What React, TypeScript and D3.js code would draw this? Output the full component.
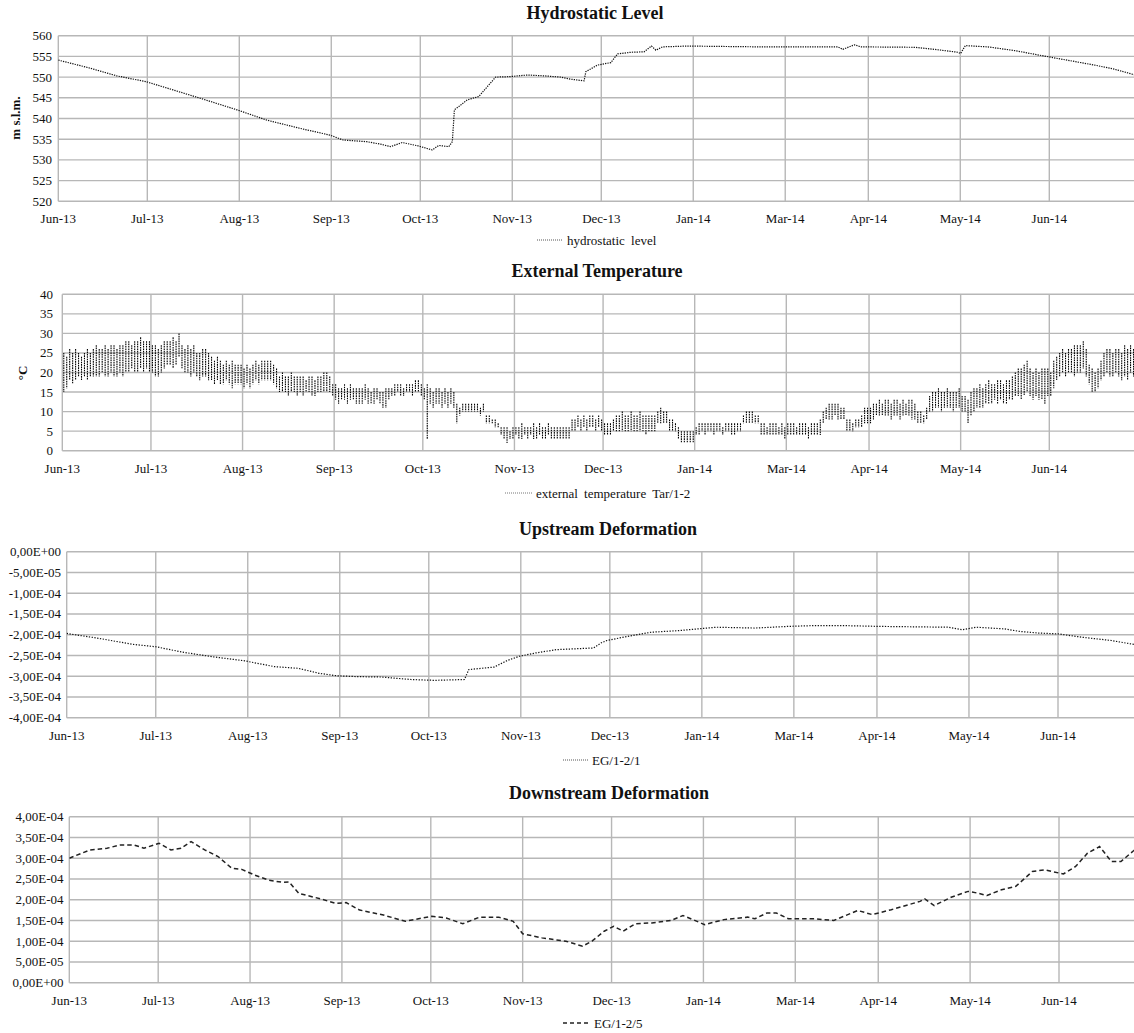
import React from "react";
import * as d3 from "d3";

// ---------- shared axis data ----------
const monthTickDays = [0, 30, 61, 92, 122, 153, 183, 214, 245, 273, 304, 334];
const monthTickLabels = ["Jun-13", "Jul-13", "Aug-13", "Sep-13", "Oct-13", "Nov-13", "Dec-13", "Jan-14", "Mar-14", "Apr-14", "May-14", "Jun-14"];

// ---------- hydrostatic level ----------
const hydroDays = [0, 10, 19.7, 29.6, 38.7, 47.8, 60.2, 70.3, 81.6, 91.5, 96, 104, 108.6, 112, 115.9, 121.2, 126, 128.2, 131.6, 132.8, 133.5, 135, 137.8, 141.7, 144.6, 147.4, 151.9, 158.1, 163.7, 169.3, 172.7, 177.2, 177.8, 181.7, 186.2, 188.5, 193, 197.4, 199.9, 201.4, 203.6, 212, 224, 236.8, 250, 262.7, 264.4, 268.3, 270.6, 288.6, 295.3, 303.2, 304.1, 305.7, 313.3, 322.3, 334.5, 349.3, 356, 363];
const hydroLevel = [554.1, 552.3, 550.3, 548.9, 546.9, 544.9, 542.1, 539.6, 537.6, 536.0, 534.8, 534.4, 533.8, 533.2, 534.2, 533.4, 532.4, 533.5, 533.2, 534.4, 542.1, 542.9, 544.5, 545.3, 547.7, 550.0, 550.1, 550.5, 550.3, 550.0, 549.5, 549.1, 551.3, 552.9, 553.5, 555.6, 556.0, 556.1, 557.5, 556.5, 557.3, 557.5, 557.4, 557.3, 557.3, 557.3, 556.7, 557.8, 557.3, 557.2, 556.7, 556.0, 555.7, 557.6, 557.3, 556.4, 554.8, 552.9, 551.9, 550.5];
const hydroTicks = [520, 525, 530, 535, 540, 545, 550, 555, 560];

// ---------- external temperature (daily max / min) ----------
const tempMax = [
  25, 24, 26, 25, 26, 25, 24, 25, 26, 25,
  26, 27, 26, 26, 27, 26, 27, 27, 26, 27,
  27, 28, 28, 27, 28, 28, 29, 28, 28, 28,
  27, 27, 26, 27, 28, 28, 28, 29, 28, 30,
  27, 26, 27, 26, 27, 25, 25, 26, 26, 25,
  24, 23, 24, 23, 22, 23, 22, 23, 22, 22,
  22, 21, 22, 21, 22, 23, 22, 23, 23, 23,
  23, 22, 21, 19, 20, 19, 19, 20, 19, 19,
  19, 19, 18, 19, 19, 18, 19, 19, 20, 20,
  19, 17, 17, 16, 16, 17, 16, 17, 16, 16,
  16, 16, 17, 16, 15, 16, 16, 15, 15, 16,
  16, 16, 17, 17, 17, 16, 17, 17, 17, 18,
  18, 17, 16, 17, 16, 15, 16, 16, 15, 16,
  15, 16, 15, 12, 11, 12, 12, 12, 12, 12,
  12, 11, 12, 9, 9, 8, 8, 7, 6, 6,
  6, 5, 6, 6, 6, 7, 6, 6, 6, 7,
  6, 7, 6, 6, 7, 6, 6, 6, 6, 6,
  6, 6, 8, 8, 9, 8, 9, 8, 9, 9,
  8, 9, 8, 7, 7, 7, 8, 9, 9, 10,
  9, 9, 10, 9, 9, 10, 9, 9, 9, 9,
  9, 10, 11, 10, 10, 8, 8, 7, 6, 5,
  5, 5, 5, 5, 6, 7, 7, 7, 7, 7,
  7, 7, 7, 6, 7, 7, 7, 7, 7, 7,
  9, 10, 10, 10, 9, 9, 7, 7, 6, 7,
  7, 7, 6, 7, 6, 7, 7, 7, 6, 7,
  7, 7, 6, 7, 7, 7, 8, 10, 11, 12,
  12, 12, 12, 11, 11, 8, 8, 7, 8, 8,
  9, 11, 11, 11, 12, 12, 13, 12, 13, 13,
  12, 13, 13, 12, 13, 12, 13, 13, 12, 10,
  10, 9, 11, 14, 15, 15, 16, 15, 15, 16,
  15, 15, 15, 16, 14, 14, 13, 15, 16, 16,
  17, 16, 17, 18, 17, 17, 18, 18, 17, 18,
  18, 19, 20, 21, 21, 22, 23, 21, 20, 21,
  20, 21, 21, 21, 20, 23, 24, 25, 26, 25,
  26, 26, 27, 27, 27, 28, 26, 22, 21, 20,
  21, 23, 25, 26, 26, 25, 26, 26, 25, 27,
  26, 27, 26,
];
const tempMin = [
  15, 16, 18, 17, 18, 19, 18, 19, 18, 19,
  19, 19, 19, 20, 19, 19, 20, 19, 19, 20,
  19, 20, 20, 21, 20, 20, 21, 20, 21, 20,
  20, 19, 19, 20, 21, 22, 22, 21, 22, 24,
  21, 20, 20, 19, 20, 19, 18, 19, 19, 18,
  18, 17, 18, 17, 17, 18, 17, 16, 17, 17,
  17, 16, 17, 16, 17, 18, 17, 18, 18, 18,
  18, 17, 16, 15, 15, 15, 14, 15, 15, 14,
  15, 14, 15, 15, 14, 14, 15, 15, 15, 15,
  15, 14, 13, 12, 13, 13, 12, 13, 13, 12,
  12, 12, 13, 12, 12, 12, 13, 12, 11, 11,
  13, 14, 14, 15, 14, 14, 15, 15, 14, 15,
  15, 14, 13, 3, 12, 11, 12, 12, 11, 12,
  11, 12, 11, 7, 9, 10, 10, 10, 10, 10,
  10, 9, 10, 7, 7, 7, 6, 6, 4, 3,
  2, 3, 3, 4, 3, 3, 4, 3, 4, 3,
  3, 4, 3, 3, 4, 3, 3, 3, 3, 3,
  3, 3, 5, 5, 6, 5, 6, 5, 6, 6,
  5, 6, 5, 4, 4, 4, 5, 5, 5, 5,
  5, 5, 5, 5, 5, 5, 5, 4, 5, 5,
  5, 7, 7, 7, 7, 5, 5, 5, 3, 2,
  2, 2, 2, 2, 4, 4, 5, 4, 5, 5,
  4, 5, 5, 4, 5, 5, 4, 4, 5, 5,
  7, 7, 7, 7, 7, 7, 4, 4, 4, 4,
  4, 4, 4, 4, 3, 4, 4, 4, 4, 4,
  4, 4, 3, 4, 4, 4, 4, 7, 8, 8,
  8, 9, 8, 8, 8, 5, 5, 5, 6, 6,
  6, 7, 7, 7, 8, 9, 9, 9, 9, 9,
  8, 9, 9, 8, 9, 9, 9, 8, 8, 7,
  7, 7, 8, 10, 10, 11, 11, 10, 11, 11,
  11, 10, 11, 11, 10, 10, 7, 9, 10, 11,
  11, 11, 12, 12, 12, 13, 12, 13, 12, 12,
  13, 13, 14, 14, 13, 14, 15, 14, 13, 14,
  13, 13, 12, 14, 14, 16, 18, 19, 20, 19,
  20, 20, 19, 20, 20, 21, 19, 17, 15, 15,
  16, 18, 19, 20, 19, 19, 20, 19, 18, 19,
  18, 20, 19,
];
const tempTicks = [0, 5, 10, 15, 20, 25, 30, 35, 40];

// ---------- upstream deformation ----------
const upDays = [0, 11, 22, 30, 39, 49, 60, 70, 78, 85, 91, 98, 106, 116, 124, 134, 135.5, 144, 148.5, 152.5, 158, 165, 177.5, 180, 182, 189, 197, 206.5, 212.5, 219, 232, 243, 252, 261, 274, 297, 301.7, 306.5, 316, 321, 327.5, 334, 342, 352, 360, 363];
const upStrain = [-1.97e-4, -2.09e-4, -2.23e-4, -2.29e-4, -2.42e-4, -2.53e-4, -2.63e-4, -2.77e-4, -2.81e-4, -2.93e-4, -2.99e-4, -3.01e-4, -3.02e-4, -3.08e-4, -3.10e-4, -3.08e-4, -2.84e-4, -2.78e-4, -2.62e-4, -2.52e-4, -2.44e-4, -2.36e-4, -2.32e-4, -2.20e-4, -2.14e-4, -2.04e-4, -1.94e-4, -1.90e-4, -1.86e-4, -1.82e-4, -1.84e-4, -1.80e-4, -1.78e-4, -1.78e-4, -1.80e-4, -1.82e-4, -1.88e-4, -1.82e-4, -1.86e-4, -1.92e-4, -1.96e-4, -1.98e-4, -2.06e-4, -2.14e-4, -2.24e-4, -2.26e-4];
const upTicks = [-4e-4, -3.5e-4, -3e-4, -2.5e-4, -2e-4, -1.5e-4, -1e-4, -5e-5, 0];

// ---------- downstream deformation ----------
const downDays = [0, 7, 12.7, 17.3, 21.8, 25.2, 30.3, 34.3, 37.7, 41.1, 45.7, 50.2, 54.8, 58.2, 62.7, 67.3, 71.8, 74.1, 77.5, 84.3, 90, 93.4, 98, 106, 113.4, 122.3, 127.2, 132.8, 138.5, 144.9, 149.8, 153, 159.5, 167.6, 173.2, 176.4, 180.5, 183.7, 186.9, 191, 196.6, 203.1, 207.1, 214.4, 220.9, 228.9, 231.4, 235.4, 238.6, 242.7, 251.6, 258, 266.1, 271, 277.4, 287.1, 288.7, 291.9, 297.6, 303.3, 306.5, 309.7, 314.6, 319.4, 325, 329.1, 335.5, 339.6, 343.6, 347.7, 351.7, 354.9, 359.5];
const downStrain = [3.0e-4, 3.2e-4, 3.24e-4, 3.32e-4, 3.32e-4, 3.24e-4, 3.36e-4, 3.2e-4, 3.24e-4, 3.4e-4, 3.2e-4, 3.04e-4, 2.76e-4, 2.73e-4, 2.59e-4, 2.47e-4, 2.42e-4, 2.43e-4, 2.15e-4, 2.03e-4, 1.91e-4, 1.93e-4, 1.75e-4, 1.63e-4, 1.48e-4, 1.6e-4, 1.56e-4, 1.42e-4, 1.58e-4, 1.58e-4, 1.48e-4, 1.18e-4, 1.08e-4, 1.0e-4, 0.88e-4, 1.0e-4, 1.24e-4, 1.36e-4, 1.24e-4, 1.42e-4, 1.44e-4, 1.5e-4, 1.62e-4, 1.4e-4, 1.52e-4, 1.58e-4, 1.54e-4, 1.68e-4, 1.68e-4, 1.54e-4, 1.54e-4, 1.5e-4, 1.74e-4, 1.64e-4, 1.76e-4, 1.96e-4, 2.02e-4, 1.86e-4, 2.06e-4, 2.2e-4, 2.16e-4, 2.1e-4, 2.24e-4, 2.32e-4, 2.68e-4, 2.72e-4, 2.62e-4, 2.8e-4, 3.12e-4, 3.28e-4, 2.92e-4, 2.92e-4, 3.2e-4];
const downTicks = [0, 5e-5, 1e-4, 1.5e-4, 2e-4, 2.5e-4, 3e-4, 3.5e-4, 4e-4];

// ---------- rendering ----------
const W = 1134;
const H = 1033;
const FONT = "'Liberation Serif', 'Times New Roman', Times, serif";
const GRID = "#b7b7b7";

function fmtSci(v: number): string {
  if (Math.abs(v) < 1e-12) return "0,00E+00";
  const [m, e] = v.toExponential(2).split("e");
  const ex = parseInt(e, 10);
  return m.replace(".", ",") + "E" + (ex < 0 ? "-" : "+") + String(Math.abs(ex)).padStart(2, "0");
}

type PanelCfg = {
  id: string;
  title: string;
  titleX: number;
  titleY: number;
  left: number;
  x334: number;
  top: number;
  bottom: number;
  yTicks: number[];
  yFmt: (v: number) => string;
  labelRight: number;
  xLabelY: number;
  yTitle?: string;
  yTitleX?: number;
  yTitleY?: number;
  legendY: number;
  legendX1: number;
  legendX2: number;
  legendText: string;
  legendDash: string;
  legendWidth: number;
  legendColor: string;
};

function Panel({ cfg, draw }: { cfg: PanelCfg; draw: (x: d3.ScaleLinear<number, number>, y: d3.ScaleLinear<number, number>) => React.ReactNode }) {
  const x = d3.scaleLinear().domain([0, 334]).range([cfg.left, cfg.x334]);
  const y = d3.scaleLinear().domain([d3.min(cfg.yTicks)!, d3.max(cfg.yTicks)!]).range([cfg.bottom, cfg.top]);
  return (
    <g>
      <defs>
        <clipPath id={"clip-" + cfg.id}>
          <rect x={cfg.left} y={cfg.top - 3} width={W - cfg.left} height={cfg.bottom - cfg.top + 6} />
        </clipPath>
      </defs>
      <text x={cfg.titleX} y={cfg.titleY} textAnchor="middle" dominantBaseline="central" fontFamily={FONT} fontWeight="bold" fontSize={18} fill="#111">
        {cfg.title}
      </text>
      {cfg.yTicks.map((t) => (
        <line key={"h" + t} x1={cfg.left} x2={W} y1={y(t)} y2={y(t)} stroke={GRID} strokeWidth={1.4} />
      ))}
      {monthTickDays.map((d) => (
        <line key={"v" + d} x1={x(d)} x2={x(d)} y1={cfg.top} y2={cfg.bottom} stroke={GRID} strokeWidth={1.4} />
      ))}
      {cfg.yTicks.map((t) => (
        <text key={"yl" + t} x={cfg.labelRight} y={y(t)} textAnchor="end" dominantBaseline="central" fontFamily={FONT} fontSize={13} fill="#111">
          {cfg.yFmt(t)}
        </text>
      ))}
      {monthTickDays.map((d, i) => (
        <text key={"xl" + d} x={x(d)} y={cfg.xLabelY} textAnchor="middle" dominantBaseline="central" fontFamily={FONT} fontSize={13} fill="#111">
          {monthTickLabels[i]}
        </text>
      ))}
      {cfg.yTitle && (
        <text
          transform={`translate(${cfg.yTitleX},${cfg.yTitleY}) rotate(-90)`}
          textAnchor="middle"
          dominantBaseline="central"
          fontFamily={FONT}
          fontWeight="bold"
          fontSize={13}
          fill="#111"
        >
          {cfg.yTitle}
        </text>
      )}
      <g clipPath={`url(#clip-${cfg.id})`}>{draw(x, y)}</g>
      <line x1={cfg.legendX1} x2={cfg.legendX2} y1={cfg.legendY} y2={cfg.legendY} stroke={cfg.legendColor} strokeWidth={cfg.legendWidth} strokeDasharray={cfg.legendDash} />
      <text x={cfg.legendX2 + 4} y={cfg.legendY} dominantBaseline="central" fontFamily={FONT} fontSize={13} fill="#111" wordSpacing={3}>
        {cfg.legendText}
      </text>
    </g>
  );
}

const panels: PanelCfg[] = [
  {
    id: "hydro", title: "Hydrostatic Level", titleX: 595, titleY: 13,
    left: 58.3, x334: 1049.3, top: 35.7, bottom: 201.3,
    yTicks: hydroTicks, yFmt: (v) => String(v), labelRight: 52, xLabelY: 218,
    yTitle: "m s.l.m.", yTitleX: 15, yTitleY: 118,
    legendY: 240, legendX1: 537, legendX2: 563, legendText: "hydrostatic level", legendDash: "1,1", legendWidth: 1, legendColor: "#555",
  },
  {
    id: "temp", title: "External Temperature", titleX: 597, titleY: 271,
    left: 62.3, x334: 1049.3, top: 294.3, bottom: 450.7,
    yTicks: tempTicks, yFmt: (v) => String(v), labelRight: 53, xLabelY: 468,
    yTitle: "°C", yTitleX: 22, yTitleY: 373,
    legendY: 493, legendX1: 505, legendX2: 532, legendText: "external temperature Tar/1-2", legendDash: "1,1", legendWidth: 1, legendColor: "#777",
  },
  {
    id: "up", title: "Upstream Deformation", titleX: 608, titleY: 529,
    left: 66.7, x334: 1058, top: 551.7, bottom: 717.7,
    yTicks: upTicks, yFmt: fmtSci, labelRight: 61, xLabelY: 735,
    legendY: 760, legendX1: 563, legendX2: 588, legendText: "EG/1-2/1", legendDash: "1,1", legendWidth: 1, legendColor: "#555",
  },
  {
    id: "down", title: "Downstream Deformation", titleX: 609, titleY: 793,
    left: 69.3, x334: 1059, top: 816.7, bottom: 982.7,
    yTicks: downTicks, yFmt: fmtSci, labelRight: 63.5, xLabelY: 1000,
    legendY: 1023, legendX1: 563, legendX2: 590, legendText: "EG/1-2/5", legendDash: "4,3", legendWidth: 1.5, legendColor: "#222",
  },
];

export default function App() {
  const lineGen = (days: number[], vals: number[], x: any, y: any) =>
    d3
      .line<number>()
      .x((_, i) => x(days[i]))
      .y((v) => y(v))(vals) || "";

  return (
    <svg width={W} height={H} style={{ position: "absolute", left: 0, top: 0, background: "#fff" }}>
      <rect x={0} y={0} width={W} height={H} fill="#fff" />
      <Panel
        cfg={panels[0]}
        draw={(x, y) => <path d={lineGen(hydroDays, hydroLevel, x, y)} fill="none" stroke="#111" strokeWidth={1.2} strokeDasharray="1.3,1.1" />}
      />
      <Panel
        cfg={panels[1]}
        draw={(x, y) => (
          <g stroke="#000" strokeWidth={1.1} strokeDasharray="1.6,0.8">
            {tempMax.map((mx, i) => (
              <line key={i} x1={x(i + 0.5)} x2={x(i + 0.5)} y1={y(mx)} y2={y(tempMin[i])} />
            ))}
          </g>
        )}
      />
      <Panel
        cfg={panels[2]}
        draw={(x, y) => <path d={lineGen(upDays, upStrain, x, y)} fill="none" stroke="#111" strokeWidth={1.2} strokeDasharray="1.3,1.5" />}
      />
      <Panel
        cfg={panels[3]}
        draw={(x, y) => <path d={lineGen(downDays, downStrain, x, y)} fill="none" stroke="#222" strokeWidth={1.5} strokeDasharray="4.5,3" />}
      />
    </svg>
  );
}
